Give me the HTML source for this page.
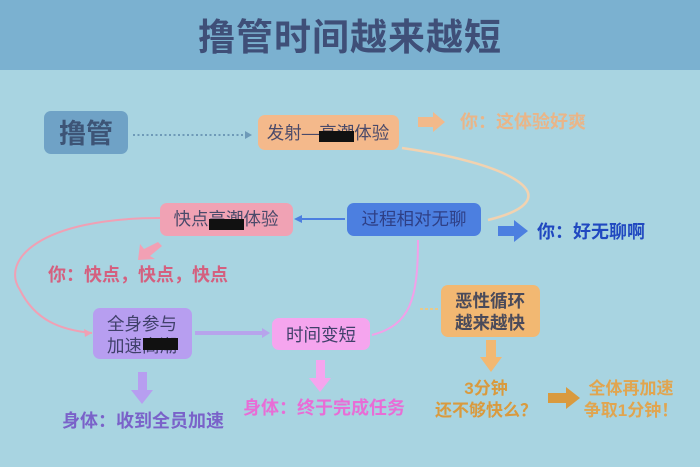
<!DOCTYPE html>
<html><head><meta charset="utf-8"><style>
html,body{margin:0;padding:0;width:700px;height:467px;overflow:hidden;background:#a8d4e1}
svg text{font-family:"Liberation Sans","Noto Sans CJK SC",sans-serif}
</style></head><body>
<svg width="700" height="467" viewBox="0 0 700 467" xmlns="http://www.w3.org/2000/svg">
<rect x="0" y="0" width="700" height="70" fill="#7bb1d0"/>
<text x="350" y="50" text-anchor="middle" font-size="37" font-weight="bold" fill="#3f4f78" letter-spacing="1">撸管时间越来越短</text>

<!-- curves -->
<path d="M402 148 C520 165 570 200 488 220" fill="none" stroke="#f2d2b0" stroke-width="2.5"/>
<path d="M160 218 C40 218 0 260 20 290 C35 320 60 330 92 333" fill="none" stroke="#f0a0b4" stroke-width="2"/>
<polygon points="92,333 84,329 85,337" fill="#f0a0b4"/>
<path d="M372 335 C410 325 418 300 418 240" fill="none" stroke="#f2a0e8" stroke-width="2"/>

<!-- 撸管 -->
<rect x="44" y="111" width="84" height="43" rx="7" fill="#6fa2c6"/>
<text x="86" y="143" text-anchor="middle" font-size="27" font-weight="bold" fill="#3d5476">撸管</text>
<line x1="133" y1="135" x2="246" y2="135" stroke="#6e9ab8" stroke-width="2" stroke-dasharray="2,2.5"/>
<polygon points="252,135 245,131 245,139" fill="#6e9ab8"/>

<rect x="258" y="115" width="141" height="35" rx="7" fill="#f4b98b"/>
<text x="328" y="139" text-anchor="middle" font-size="17.5" fill="#4a4a6a">发射—高潮体验</text>
<rect x="319" y="131" width="35" height="11" fill="#111"/>

<polygon points="418,117 433,117 433,112 445,122 433,132 433,127 418,127" fill="#f2b98a"/>
<text x="460" y="128" font-size="18" font-weight="bold" fill="#e9b588">你：这体验好爽</text>

<rect x="347" y="203" width="134" height="33" rx="7" fill="#4c7fe0"/>
<text x="414" y="225" text-anchor="middle" font-size="17.5" fill="#2e3f85">过程相对无聊</text>
<line x1="345" y1="219" x2="300" y2="219" stroke="#4c7fe0" stroke-width="2"/>
<polygon points="294,219 302,215 302,223" fill="#4c7fe0"/>

<rect x="160" y="203" width="133" height="33" rx="7" fill="#f0a2b4"/>
<text x="226" y="225" text-anchor="middle" font-size="17.5" fill="#4a4a6a">快点高潮体验</text>
<rect x="209" y="219" width="35" height="11" fill="#111"/>

<polygon points="498,226 514,226 514,220 528,231 514,242 514,236 498,236" fill="#4c7fe0"/>
<text x="537" y="238" font-size="18" font-weight="bold" fill="#2048c0">你：好无聊啊</text>

<polygon points="158,242 162,246 150,256 155,259 138,260 140,244 144,249" fill="#f2a0b4"/>
<text x="48" y="281" font-size="18" font-weight="bold" fill="#d4607f">你：快点，快点，快点</text>

<rect x="93" y="308" width="99" height="51" rx="7" fill="#b79ef0"/>
<text x="142" y="330" text-anchor="middle" font-size="17.5" fill="#40406a">全身参与</text>
<text x="142" y="352" text-anchor="middle" font-size="17.5" fill="#40406a">加速高潮</text>
<rect x="143" y="338" width="35" height="12" fill="#111"/>
<line x1="195" y1="333" x2="262" y2="333" stroke="#b7a4ec" stroke-width="4"/>
<polygon points="270,333 262,328 262,338" fill="#b7a4ec"/>

<rect x="272" y="318" width="98" height="32" rx="7" fill="#f5a5ee"/>
<text x="321" y="341" text-anchor="middle" font-size="17.5" fill="#40406a">时间变短</text>

<rect x="441" y="285" width="99" height="52" rx="7" fill="#f2b872"/>
<text x="490" y="307" text-anchor="middle" font-size="17.5" font-weight="bold" fill="#4a4a5a">恶性循环</text>
<text x="490" y="329" text-anchor="middle" font-size="17.5" font-weight="bold" fill="#4a4a5a">越来越快</text>
<line x1="420" y1="309" x2="438" y2="309" stroke="#e8c98a" stroke-width="2" stroke-dasharray="3,2"/>

<polygon points="486,340 496,340 496,357 502,357 491,372 480,357 486,357" fill="#f2b872"/>
<text x="486" y="394" text-anchor="middle" font-size="17" font-weight="bold" fill="#d99a3e">3分钟</text>
<text x="486" y="416" text-anchor="middle" font-size="17" font-weight="bold" fill="#d99a3e">还不够快么？</text>
<polygon points="548,393 566,393 566,387 580,398 566,409 566,403 548,403" fill="#d99a3e"/>
<text x="631" y="394" text-anchor="middle" font-size="17" font-weight="bold" fill="#e0a550">全体再加速</text>
<text x="631" y="416" text-anchor="middle" font-size="17" font-weight="bold" fill="#e0a550">争取1分钟！</text>

<polygon points="138,372 147,372 147,390 153,390 142,404 131,390 138,390" fill="#b79ef0"/>
<text x="62" y="427" font-size="18" font-weight="bold" fill="#7a62c9">身体：收到全员加速</text>
<polygon points="316,360 325,360 325,378 331,378 320,392 309,378 316,378" fill="#f5a5ee"/>
<text x="243" y="414" font-size="18" font-weight="bold" fill="#e86dd6">身体：终于完成任务</text>
</svg>
</body></html>
